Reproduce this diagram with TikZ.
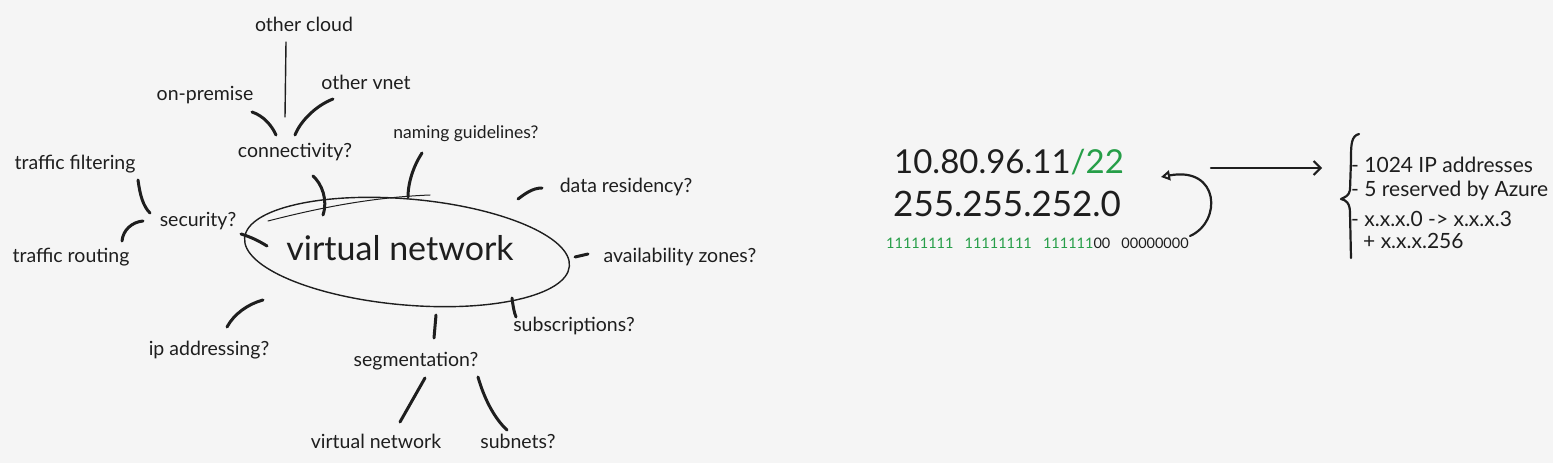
\documentclass[tikz,border=0pt]{standalone}
\usepackage{fontspec}
\setmainfont{Lato}
\usetikzlibrary{arrows.meta}
\definecolor{ink}{RGB}{30,30,30}
\definecolor{grn}{RGB}{38,158,72}
\definecolor{bg}{RGB}{245,245,245}
\begin{document}
\begin{tikzpicture}[x=1pt,y=-1pt,
  lbl/.style={text=ink,inner sep=0pt,font=\fontsize{19.5}{21}\selectfont},
  big/.style={text=ink,inner sep=0pt,font=\fontsize{34}{38}\selectfont},
  lst/.style={text=ink,inner sep=0pt,anchor=west,font=\fontsize{21}{23}\selectfont},
  stroke/.style={draw=ink,line width=3pt,line cap=round},
  thin/.style={draw=ink,line width=1.4pt,line cap=round}]
\fill[bg] (0,0) rectangle (1553,463);
\useasboundingbox (0,0) rectangle (1553,463);

% ---- mind map labels
\node[lbl] (ocloud) at (304,24) {other cloud};
\node[lbl] (onprem) at (205,95) {on-premise};
\node[lbl] (ovnet) at (366,82) {other vnet};
\node[lbl] (conn) at (295,152) {connectivity?};
\node[lbl,font=\fontsize{17.5}{20}\selectfont] (naming) at (466,134) {naming guidelines?};
\node[lbl] (tfilter) at (75,164) {traffic filtering};
\node[lbl] (sec) at (198,221) {security?};
\node[lbl] (troute) at (71,257) {traffic routing};
\node[lbl] (datares) at (626,187) {data residency?};
\node[lbl] (avz) at (680,257) {availability zones?};
\node[lbl] (subs) at (574,326) {subscriptions?};
\node[lbl] (ipaddr) at (209,350) {ip addressing?};
\node[lbl] (seg) at (416,361) {segmentation?};
\node[lbl] (vnet2) at (376,441) {virtual network};
\node[lbl] (subnets) at (518,441) {subnets?};

% ---- central ellipse
\draw[ink,line width=1.4pt,rotate around={-5:(407,252)}] (407,252) ellipse [x radius=163, y radius=53];
\draw[ink,line width=1pt,line cap=round] (268,221) .. controls (330,205) and (380,197) .. (430,195);
\node[big] (vnet) at (400,248) {virtual network};

% ---- strokes
\draw[thin] (286,42) -- (285,117);
\draw[stroke] (252,112) .. controls (264,116) and (272,126) .. (276,135);
\draw[stroke] (333,99) .. controls (315,106) and (300,122) .. (295,135);
\draw[stroke] (313,176) .. controls (322,184) and (328,200) .. (323,215);
\draw[stroke] (422,153) .. controls (414,165) and (408,182) .. (408,197);
\draw[stroke] (138,180) .. controls (140,195) and (143,206) .. (150,213);
\draw[stroke] (143,221) .. controls (132,222) and (123,230) .. (122,241);
\draw[stroke] (241,234) .. controls (251,237) and (259,241) .. (267,246);
\draw[stroke] (518,199) .. controls (526,193) and (533,188) .. (542,188);
\draw[stroke] (575,257) -- (588,254);
\draw[stroke] (512,298) .. controls (513,306) and (514,312) .. (516,317);
\draw[stroke] (227,327) .. controls (234,314) and (248,304) .. (263,300);
\draw[stroke] (436,315) -- (434,338);
\draw[stroke] (425,378) -- (400,422);
\draw[stroke] (478,377) .. controls (484,398) and (494,418) .. (507,430);

% ---- IP block
\node[big,anchor=west,font=\fontsize{33}{36}\selectfont] (ip) at (894,162) {10.80.96.11\textcolor{grn}{/22}};
\node[big,anchor=west,font=\fontsize{35}{38}\selectfont] (mask) at (893,204) {255.255.252.0};
\node[lbl,anchor=west,font=\fontsize{14.5}{16}\selectfont] (bin) at (886,243) {\textcolor{grn}{11111111\ \ \ 11111111\ \ \ 111111}00\ \ \ 00000000};

\coordinate (cs) at (1190,236);
\coordinate (ce) at (1161,177);
\draw[ink,line width=2.2pt,line cap=round,-{Triangle[open,length=9pt,width=10pt,line width=2pt]}] (cs) .. controls (1222,222) and (1220,166) .. (ce);

\coordinate (as) at (1211,168);
\coordinate (ae) at (1322,168);
\draw[ink,line width=2.2pt,line cap=round,-{Straight Barb[length=7pt,width=14pt,line width=2pt]}] (as) -- (ae);

% brace
\draw[ink,line width=2.2pt,line cap=round,line join=round]
  (1359,134) .. controls (1351,136) and (1351,145) .. (1351,160) -- (1350,190)
  .. controls (1349,196) and (1345,197) .. (1341,199)
  .. controls (1346,200) and (1350,203) .. (1350,213) -- (1351,258);

\node[lst] (l1) at (1351,165) {- 1024 IP addresses};
\node[lst] (l2) at (1351,191) {- 5 reserved by Azure};
\node[lst] (l3) at (1351,219) {- x.x.x.0 -> x.x.x.3};
\node[lst] (l4) at (1363,241) {+ x.x.x.256};
\end{tikzpicture}
\end{document}
